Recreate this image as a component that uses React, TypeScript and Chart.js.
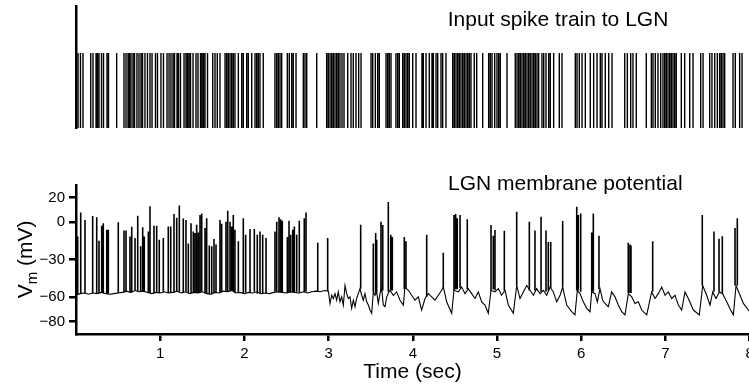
import React, { useEffect, useRef } from "react";
import { Chart, registerables } from "chart.js";

Chart.register(...registerables);

const FONT = "'Liberation Sans', Arial, Helvetica, sans-serif";

// ---- texts ----
const topTitle = "Input spike train to LGN";
const bottomTitle = "LGN membrane potential";
const xTitle = "Time (sec)";
const yTitleMain = "V";
const yTitleSub = "m";
const yTitleRest = " (mV)";

// ---- axes ----
const xMin = 0;
const xMax = 8;
const xTickValues = [1, 2, 3, 4, 5, 6, 7, 8];
const yMin = -90;
const yMax = 30;
const yTickValues = [20, 0, -30, -60, -80];

// ---- input spike train (s) ----
const inputSpikeTimes = [
  0.024, 0.053, 0.083, 0.175, 0.202, 0.238, 0.255, 0.273, 0.303, 0.327, 0.368, 0.386, 0.483, 0.570, 0.594, 0.618,
  0.635, 0.653, 0.677, 0.695, 0.724, 0.748, 0.772, 0.790, 0.819, 0.849, 0.879, 0.903, 0.944, 0.968, 1.009, 1.039,
  1.081, 1.105, 1.128, 1.152, 1.170, 1.200, 1.217, 1.241, 1.283, 1.306, 1.324, 1.342, 1.360, 1.390, 1.425, 1.449,
  1.479, 1.496, 1.514, 1.532, 1.562,
  1.624, 1.651, 1.678, 1.710, 1.770, 1.790, 1.809, 1.829, 1.849, 1.868, 1.888, 1.928, 1.968, 1.987, 2.027, 2.046,
  2.087, 2.126, 2.146, 2.165, 2.185, 2.224, 2.363, 2.384, 2.403, 2.423, 2.443, 2.510, 2.533, 2.562, 2.581, 2.613,
  2.700, 2.720, 2.740, 2.859, 2.977, 2.996, 3.017, 3.037, 3.056, 3.076, 3.096, 3.115, 3.135, 3.159, 3.183,
  3.227, 3.266, 3.293, 3.325, 3.357, 3.385, 3.504, 3.524, 3.555, 3.583, 3.602, 3.682, 3.702, 3.721, 3.741, 3.800,
  3.821, 3.840, 3.880, 3.899, 3.919, 3.939, 3.958, 3.999, 4.038, 4.109, 4.125, 4.157, 4.196, 4.228, 4.244, 4.276,
  4.296, 4.335, 4.355, 4.394, 4.474, 4.493, 4.513, 4.533, 4.552, 4.572, 4.593, 4.612, 4.632, 4.652, 4.671, 4.691,
  4.730, 4.759,
  4.830, 4.901, 4.920, 4.941, 4.973, 5.000, 5.020, 5.039, 5.119, 5.217, 5.238, 5.258, 5.277, 5.297, 5.317, 5.336,
  5.356, 5.376, 5.395, 5.416, 5.436, 5.455, 5.475, 5.495, 5.534, 5.555, 5.582, 5.614, 5.633, 5.673, 5.740, 5.772,
  5.930, 5.950, 5.977, 6.010, 6.049, 6.108, 6.148, 6.188, 6.227, 6.247, 6.286, 6.327, 6.366,
  6.517, 6.548, 6.588, 6.615, 6.654, 6.773, 6.833, 6.853, 6.880, 6.912, 6.944, 6.971, 6.992, 7.011, 7.031, 7.051,
  7.070, 7.090, 7.110, 7.129, 7.189, 7.229, 7.289, 7.328, 7.419, 7.447, 7.526, 7.553, 7.586, 7.617, 7.645, 7.664,
  7.684, 7.704, 7.803, 7.830, 7.882, 7.910,
];

// ---- LGN membrane potential: sub-threshold trace [t (s), V (mV)] ----
const lgnTrace: [number, number][] = [
  [0.0, -58.5], [0.05, -57.5], [0.1, -57], [0.15, -58], [0.2, -57], [0.25, -57.5], [0.3, -56.5], [0.35, -57.5],
  [0.4, -58], [0.45, -57.5], [0.5, -57], [0.55, -56.5], [0.6, -55.5], [0.65, -56.5], [0.7, -55], [0.75, -56],
  [0.8, -55.5], [0.85, -56.5], [0.9, -57.5], [0.95, -56.5], [1.0, -57], [1.05, -56], [1.1, -57], [1.15, -56.5],
  [1.2, -55.5], [1.25, -57], [1.3, -56], [1.35, -57.5], [1.4, -56.5], [1.45, -57], [1.5, -56], [1.55, -57.5],
  [1.6, -58], [1.65, -56.5], [1.7, -57], [1.75, -55.5], [1.8, -56], [1.85, -55], [1.9, -57], [1.95, -56.5],
  [2.0, -57.5], [2.05, -56.5], [2.1, -57], [2.15, -56], [2.2, -57.5], [2.25, -57], [2.3, -57.5], [2.35, -56.5],
  [2.4, -56], [2.45, -56.5], [2.5, -57], [2.55, -56], [2.6, -56.5], [2.65, -57], [2.7, -56], [2.75, -57],
  [2.8, -56], [2.85, -55.5], [2.9, -56], [2.95, -55], [2.997, -55.6],
  [3.017, -65.4], [3.037, -58.8], [3.056, -61.4], [3.076, -57.5], [3.096, -62.8], [3.115, -56.1], [3.135, -64.1],
  [3.155, -60.1], [3.175, -66.7], [3.195, -50.9], [3.215, -57.5], [3.234, -61.4], [3.254, -60.1], [3.274, -69.3],
  [3.294, -62.8], [3.314, -68], [3.333, -61.4], [3.353, -57.5], [3.373, -53.5], [3.393, -58.8], [3.412, -62.8],
  [3.432, -57.5], [3.452, -64.1], [3.472, -66.7], [3.492, -70.7], [3.512, -73.3], [3.531, -56.1], [3.551, -58.8],
  [3.571, -56.1], [3.59, -65.4], [3.61, -57.5], [3.63, -53.5], [3.65, -66.7], [3.67, -68], [3.69, -60.1],
  [3.717, -56.1], [3.729, -54.8], [3.769, -58.8], [3.808, -56.1], [3.848, -62.8], [3.888, -66.7], [3.907, -52.2],
  [3.947, -54.8], [3.987, -58.8], [4.026, -62.8], [4.066, -60.1], [4.105, -70.7], [4.145, -61.4], [4.185, -57.5],
  [4.224, -60.1], [4.264, -62.8], [4.303, -58.8], [4.343, -54.8], [4.363, -52.2], [4.402, -64.1], [4.462, -73.3],
  [4.489, -54.8], [4.541, -56.1], [4.58, -52.2], [4.62, -57.5], [4.659, -53.5], [4.699, -57.5], [4.739, -61.4],
  [4.778, -56.1], [4.818, -64.1], [4.857, -66.7], [4.897, -73.3], [4.929, -54.8], [4.976, -56.1], [5.016, -53.5],
  [5.055, -58.8], [5.095, -54.8], [5.135, -66.7], [5.194, -73.3], [5.234, -50.9], [5.273, -61.4], [5.313, -56.1],
  [5.353, -50.9], [5.392, -54.8], [5.432, -58.8], [5.471, -53.5], [5.511, -57.5], [5.551, -54.8], [5.59, -58.8],
  [5.63, -52.2], [5.669, -56.1], [5.709, -64.1], [5.749, -58.8], [5.78, -52.2], [5.828, -66.7], [5.887, -72],
  [5.926, -74.6], [5.954, -54.8], [5.986, -57.5], [6.025, -64.1], [6.065, -69.3], [6.105, -72], [6.124, -56.1],
  [6.164, -57.5], [6.192, -64.1], [6.223, -53.5], [6.255, -62.8], [6.283, -65.4], [6.322, -68], [6.362, -56.1],
  [6.401, -60.1], [6.441, -66.7], [6.481, -72], [6.52, -74.6], [6.56, -57.5], [6.6, -60.1], [6.639, -65.4],
  [6.679, -64.1], [6.718, -70.7], [6.778, -74.6], [6.837, -56.1], [6.877, -61.4], [6.916, -57.5], [6.956, -52.2],
  [6.996, -58.8], [7.035, -56.1], [7.075, -61.4], [7.114, -58.8], [7.154, -66.7], [7.193, -70.7], [7.233, -56.1],
  [7.272, -61.4], [7.332, -70.7], [7.403, -74.6], [7.443, -50.9], [7.49, -58.8], [7.53, -66.7], [7.562, -56.1],
  [7.601, -61.4], [7.641, -56.1], [7.68, -57.5], [7.728, -64.1], [7.775, -70.7], [7.807, -74.6], [7.839, -50.9],
  [7.886, -58.8], [7.926, -65.4], [7.985, -70.7], [8.0, -72],
];

// ---- LGN action potentials [t (s), foot (mV), peak (mV)] ----
const lgnSpikes: [number, number, number][] = [
  [0.02, -58, -11.4], [0.056, -57.5, 7.9], [0.107, -57, 1.8], [0.198, -57, 5], [0.246, -57.5, 4], [0.273, -57, -14.8],
  [0.305, -56.5, -2.9], [0.324, -57, -0.8], [0.365, -57.5, -6.1], [0.384, -57.5, -6.1], [0.502, -57, 0],
  [0.57, -56.5, -6.6], [0.594, -56, -6.6], [0.641, -56.5, -11.4], [0.662, -56.5, -3.7], [0.701, -55, -12.6],
  [0.733, -55.5, 5.2], [0.768, -56, -19.3], [0.792, -55.5, -4], [0.811, -55.5, -11.4], [0.859, -56.5, -7.4],
  [0.879, -57, 12.9], [0.926, -57, -2.9], [0.958, -56.5, -2.9], [0.989, -57, -14], [1.037, -56.5, -12.6],
  [1.096, -57, -3.5], [1.125, -57, -3.5], [1.164, -56.5, 6.6], [1.196, -56, 3.7], [1.227, -56, 13.4],
  [1.274, -57, 3.1], [1.306, -56, 1.8], [1.334, -57, -17.2], [1.366, -57, -0.8], [1.393, -56.5, -7.4],
  [1.413, -57, -8.7], [1.433, -57, -2.1], [1.453, -57, -8.2], [1.473, -57, 5.8], [1.493, -56, 7.1],
  [1.532, -57, -4.7], [1.552, -57.5, 3.2], [1.583, -58, -18.7], [1.612, -58, -19.3], [1.639, -57, -13.4],
  [1.663, -56.5, -17.9], [1.71, -57, 1.8], [1.73, -56, -1.3], [1.781, -55.5, 0.5], [1.802, -56, 9.2],
  [1.829, -55.5, 0.5], [1.849, -55, -3.5], [1.868, -55.5, 5.8], [1.888, -57, -6.1], [1.928, -57, -15.3],
  [1.987, -57.5, 3.2], [2.015, -56.5, -10], [2.067, -57, -5.5], [2.118, -56, -5.5], [2.153, -57.5, -10],
  [2.185, -57.5, -7.4], [2.217, -57.5, -10], [2.257, -57, -12.6], [2.363, -56, -7.4], [2.384, -56, 0.5],
  [2.411, -56.5, 4], [2.431, -56.5, 2.4], [2.45, -56.5, 1.3], [2.51, -57, -11.9], [2.53, -56.5, 1.3],
  [2.55, -56.5, -10], [2.574, -56.5, -6.1], [2.593, -56.5, -3.5], [2.621, -56, -10], [2.652, -56.5, 1.3],
  [2.711, -56, 3.2], [2.732, -56, 7.9], [2.871, -56, -16.6], [2.989, -55.5, -12.6],
  [3.381, -53.5, -2.1], [3.531, -56, -17.2], [3.559, -57, -8.7], [3.571, -56, -14], [3.622, -56, 0.5],
  [3.643, -55, -2.2], [3.709, -56, 16.3], [3.738, -55, -10], [3.757, -55, -11.9], [3.899, -54, -11.9],
  [3.919, -53, -15.3], [4.165, -60, -10], [4.362, -53, -24.5], [4.489, -55, 5.8], [4.509, -54, 6.6],
  [4.528, -54, 3.2], [4.561, -53, 5.8], [4.647, -54, 2.4], [4.929, -55, -2.2], [4.956, -54, -10.9],
  [4.976, -55, -6.2], [5.087, -55, -6.9], [5.234, -51, 8.4], [5.384, -55, 0.5], [5.451, -55, -6.6],
  [5.523, -56, 4.5], [5.582, -56, -6.6], [5.609, -55, -16], [5.638, -53, -16], [5.78, -52, 1.1],
  [5.947, -55, 12.4], [5.966, -55, 5.8], [5.994, -56, 7.1], [6.125, -56, -8.2], [6.144, -56, 7.1],
  [6.211, -54, -10.9], [6.559, -57, -16.6], [6.58, -57, -17.9], [6.591, -57, -18.7], [6.849, -56, -15.3],
  [7.438, -51, 5.8], [7.577, -56, -7.4], [7.637, -56, -13.2], [7.676, -57, -11.3], [7.827, -51, -4.7],
  [7.854, -51, 3.2],
];

// ---------------------------------------------------------------------------

const CANVAS_W = 780;
const PLOT_LEFT = 76;
const PLOT_RIGHT = 749.6;
const TOP_H = 140;
const BOT_TOP = 150;
const BOT_H = 236;

const fmtTick = (v: number) => (v < 0 ? "\u2212" + Math.abs(v) : String(v));

function textPlugin(draw: (ctx: CanvasRenderingContext2D) => void) {
  return {
    id: "texts",
    afterDraw(chart: any) {
      const ctx = chart.ctx as CanvasRenderingContext2D;
      ctx.save();
      ctx.fillStyle = "#000";
      draw(ctx);
      ctx.restore();
    },
  };
}

export default function App() {
  const topRef = useRef<HTMLCanvasElement | null>(null);
  const botRef = useRef<HTMLCanvasElement | null>(null);

  useEffect(() => {
    // raster: one vertical segment per input spike
    const rasterPts: { x: number; y: number | null }[] = [];
    inputSpikeTimes.forEach((t) => {
      rasterPts.push({ x: t, y: 0 }, { x: t, y: 1 }, { x: t, y: null });
    });

    const top = new Chart(topRef.current as HTMLCanvasElement, {
      type: "line",
      data: {
        datasets: [
          {
            data: rasterPts as any,
            borderColor: "#000",
            borderWidth: 1.4,
            pointRadius: 0,
            spanGaps: false,
            tension: 0,
          },
        ],
      },
      options: {
        responsive: false,
        animation: false,
        events: [],
        layout: { padding: { left: 0, right: CANVAS_W - PLOT_RIGHT, top: 6, bottom: TOP_H - 128 } },
        plugins: { legend: { display: false }, tooltip: { enabled: false }, title: { display: false } },
        scales: {
          x: { type: "linear", min: xMin, max: xMax, display: false },
          y: {
            type: "linear",
            min: 0,
            max: 1.627,
            ticks: { display: false },
            grid: { display: false, drawTicks: false },
            border: { display: true, color: "#000", width: 2.5 },
            afterFit: (s: any) => {
              s.width = PLOT_LEFT;
            },
          },
        },
      },
      plugins: [
        textPlugin((ctx) => {
          ctx.font = `21px ${FONT}`;
          ctx.textAlign = "left";
          ctx.textBaseline = "alphabetic";
          ctx.fillText(topTitle, 447.7, 25.5);
        }),
      ],
    } as any);

    const tracePts = lgnTrace.map(([t, v]) => ({ x: t, y: v }));
    const spikePts: { x: number; y: number | null }[] = [];
    lgnSpikes.forEach(([t, foot, peak]) => {
      spikePts.push({ x: t, y: foot }, { x: t, y: peak }, { x: t, y: null });
    });

    const bot = new Chart(botRef.current as HTMLCanvasElement, {
      type: "line",
      data: {
        datasets: [
          { data: tracePts as any, borderColor: "#000", borderWidth: 1.1, pointRadius: 0, tension: 0 },
          {
            data: spikePts as any,
            borderColor: "#000",
            borderWidth: 1.6,
            pointRadius: 0,
            spanGaps: false,
            tension: 0,
          },
        ],
      },
      options: {
        responsive: false,
        animation: false,
        events: [],
        layout: { padding: { left: 0, right: CANVAS_W - PLOT_RIGHT, top: 185 - BOT_TOP, bottom: 0 } },
        plugins: { legend: { display: false }, tooltip: { enabled: false }, title: { display: false } },
        scales: {
          x: {
            type: "linear",
            min: xMin,
            max: xMax,
            afterBuildTicks: (s: any) => {
              s.ticks = xTickValues.map((v) => ({ value: v }));
            },
            ticks: {
              color: "#000",
              font: { family: FONT, size: 15 },
              padding: 4,
              maxRotation: 0,
              autoSkip: false,
              callback: (v: any) => String(v),
            },
            grid: {
              display: true,
              drawOnChartArea: false,
              drawTicks: true,
              tickLength: 7,
              lineWidth: 2.5,
              color: "#000",
            },
            border: { display: true, color: "#000", width: 2.5 },
            afterFit: (s: any) => {
              s.height = BOT_H - (334 - BOT_TOP);
            },
          },
          y: {
            type: "linear",
            min: yMin,
            max: yMax,
            afterBuildTicks: (s: any) => {
              s.ticks = yTickValues.map((v) => ({ value: v }));
            },
            ticks: {
              color: "#000",
              font: { family: FONT, size: 15 },
              padding: 4,
              autoSkip: false,
              callback: (v: any) => fmtTick(Number(v)),
            },
            grid: {
              display: true,
              drawOnChartArea: false,
              drawTicks: true,
              tickLength: 7,
              lineWidth: 2.5,
              color: "#000",
            },
            border: { display: true, color: "#000", width: 2.5 },
            afterFit: (s: any) => {
              s.width = PLOT_LEFT;
            },
          },
        },
      },
      plugins: [
        textPlugin((ctx) => {
          ctx.font = `21px ${FONT}`;
          ctx.textBaseline = "alphabetic";
          ctx.textAlign = "left";
          ctx.fillText(bottomTitle, 448, 190 - BOT_TOP);
          ctx.textAlign = "center";
          ctx.fillText(xTitle, 412.5, 377.5 - BOT_TOP);
          // rotated y title with subscript
          ctx.translate(31.7, 298.3 - BOT_TOP);
          ctx.rotate(-Math.PI / 2);
          ctx.textAlign = "left";
          ctx.font = `21px ${FONT}`;
          const wV = ctx.measureText(yTitleMain).width;
          ctx.fillText(yTitleMain, 0, 0);
          ctx.font = `15px ${FONT}`;
          const wm = ctx.measureText(yTitleSub).width;
          ctx.fillText(yTitleSub, wV, 5);
          ctx.font = `21px ${FONT}`;
          ctx.fillText(yTitleRest, wV + wm, 0);
        }),
      ],
    } as any);

    return () => {
      top.destroy();
      bot.destroy();
    };
  }, []);

  return (
    <div
      style={{
        position: "absolute",
        left: 0,
        top: 0,
        width: 749,
        height: 386,
        overflow: "hidden",
        background: "#fff",
      }}
    >
      <canvas
        ref={topRef}
        width={CANVAS_W}
        height={TOP_H}
        style={{ position: "absolute", left: 0, top: 0, width: CANVAS_W, height: TOP_H }}
      />
      <canvas
        ref={botRef}
        width={CANVAS_W}
        height={BOT_H}
        style={{ position: "absolute", left: 0, top: BOT_TOP, width: CANVAS_W, height: BOT_H }}
      />
    </div>
  );
}
